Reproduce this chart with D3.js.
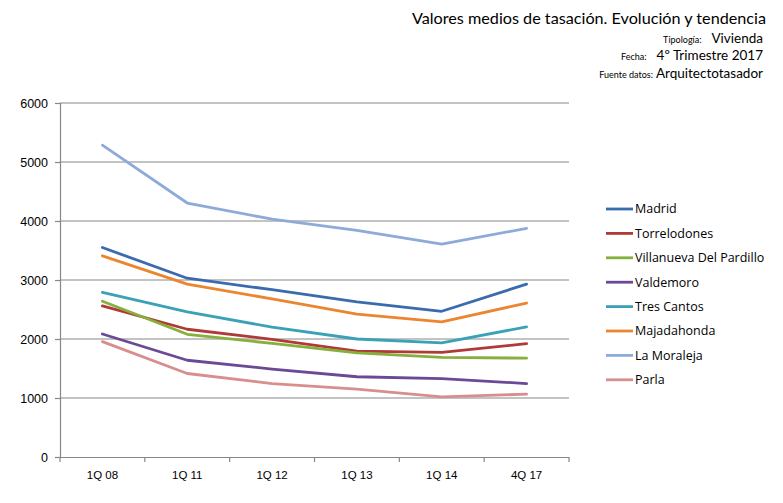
<!DOCTYPE html>
<html>
<head>
  <meta charset="utf-8">
  <title>Valores medios de tasación</title>
  <style>
    body { margin: 0; background: #fff; }
    svg text { fill: #000; }
  </style>
</head>
<body>
  <svg id="chart"></svg>

  <script src="https://d3js.org/d3.v7.min.js"></script>
  <script>
    // periods on the x axis
    const periods = ["1Q 08", "1Q 11", "1Q 12", "1Q 13", "1Q 14", "4Q 17"];
    const yTicks = [0, 1000, 2000, 3000, 4000, 5000, 6000];

    const cities = ["Madrid", "Torrelodones", "Villanueva Del Pardillo", "Valdemoro",
                    "Tres Cantos", "Majadahonda", "La Moraleja", "Parla"];

    // €/m2
    const madrid       = [3550, 3030, 2835, 2630, 2470, 2930];
    const torrelodones = [2560, 2165, 1995, 1795, 1775, 1920];
    const villanueva   = [2640, 2080, 1925, 1765, 1690, 1675];
    const valdemoro    = [2085, 1640, 1490, 1360, 1330, 1245];
    const tresCantos   = [2790, 2460, 2200, 2000, 1935, 2205];
    const majadahonda  = [3410, 2930, 2680, 2420, 2290, 2610];
    const moraleja     = [5285, 4305, 4030, 3840, 3610, 3875];
    const parla        = [1955, 1415, 1245, 1150, 1020, 1065];

    const colors = ["#3a6baf", "#b03a37", "#86b03c", "#6a4a96", "#3aa1b7", "#ec8530", "#8eaad8", "#d98e8e"];

    const series = [madrid, torrelodones, villanueva, valdemoro, tresCantos, majadahonda, moraleja, parla]
      .map((values, i) => ({ name: cities[i], values, color: colors[i] }));

    const width = 783, height = 503;
    const margin = { top: 103, left: 60, right: 214, bottom: 46 };

    const svg = d3.select("#chart")
      .attr("width", width)
      .attr("height", height)
      .style("font-family", "'Open Sans', sans-serif");

    const x = d3.scaleBand()
      .domain(periods)
      .range([margin.left, width - margin.right]);

    const y = d3.scaleLinear()
      .domain([0, 6000])
      .range([height - margin.bottom, margin.top]);

    const grey = "#878787";

    // gridlines
    svg.append("g")
      .selectAll("line")
      .data(yTicks.filter(d => d > 0))
      .join("line")
      .attr("x1", margin.left)
      .attr("x2", width - margin.right)
      .attr("y1", d => y(d))
      .attr("y2", d => y(d))
      .attr("stroke", grey)
      .attr("stroke-width", 1.2);

    // y axis
    const yAxis = svg.append("g")
      .attr("transform", `translate(${margin.left},0)`)
      .call(d3.axisLeft(y).tickValues(yTicks).tickSize(5).tickPadding(7).tickFormat(d3.format("d")));
    yAxis.select(".domain").attr("stroke", grey).attr("stroke-width", 1.2);
    yAxis.selectAll(".tick line").attr("stroke", grey).attr("stroke-width", 1.2);
    yAxis.selectAll("text").attr("font-size", 12.5).style("fill", "#000");

    // x axis
    const xAxis = svg.append("g")
      .attr("transform", `translate(0,${height - margin.bottom})`)
      .call(d3.axisBottom(x).tickSize(0).tickPadding(14));
    xAxis.select(".domain").attr("stroke", grey).attr("stroke-width", 1.2);
    xAxis.selectAll("text").attr("font-size", 11.5).style("fill", "#000");
    xAxis.append("g")
      .selectAll("line")
      .data(periods.map(p => x(p)).concat([x.range()[1]]))
      .join("line")
      .attr("x1", d => d)
      .attr("x2", d => d)
      .attr("y1", 0)
      .attr("y2", 5)
      .attr("stroke", grey)
      .attr("stroke-width", 1.2);

    // lines
    const line = d3.line()
      .x((d, i) => x(periods[i]) + x.bandwidth() / 2)
      .y(d => y(d));

    svg.append("g")
      .selectAll("path")
      .data(series)
      .join("path")
      .attr("fill", "none")
      .attr("stroke", d => d.color)
      .attr("stroke-width", 2.8)
      .attr("stroke-linejoin", "round")
      .attr("stroke-linecap", "round")
      .attr("d", d => line(d.values));

    // legend
    const legend = svg.append("g")
      .attr("transform", "translate(606,209)")
      .selectAll("g")
      .data(series)
      .join("g")
      .attr("transform", (d, i) => `translate(0,${i * 24.4})`);

    legend.append("line")
      .attr("x1", 0)
      .attr("x2", 27)
      .attr("stroke", d => d.color)
      .attr("stroke-width", 2.8);

    legend.append("text")
      .attr("x", 29)
      .attr("dy", "0.35em")
      .attr("font-size", 12.5)
      .text(d => d.name);

    // header, right aligned
    const header = svg.append("g")
      .style("font-family", "Lato, 'DejaVu Sans', sans-serif")
      .attr("text-anchor", "end");

    header.append("text")
      .attr("x", 766)
      .attr("y", 24)
      .attr("font-size", 16.2)
      .text("Valores medios de tasación. Evolución y tendencia");

    const rows = [
      { label: "Tipología:", value: "Vivienda", y: 43 },
      { label: "Fecha:", value: "4º Trimestre 2017", y: 60 },
      { label: "Fuente datos:", value: "Arquitectotasador", y: 78 }
    ];

    header.selectAll(".row")
      .data(rows)
      .join("text")
      .attr("class", "row")
      .attr("x", 763)
      .attr("y", d => d.y)
      .each(function (d) {
        const t = d3.select(this);
        t.append("tspan").attr("font-size", 9).text(d.label);
        t.append("tspan").attr("font-size", 13.5).attr("dx", d.label === "Fuente datos:" ? 3 : 10).text(d.value);
      });
  </script>
</body>
</html>
